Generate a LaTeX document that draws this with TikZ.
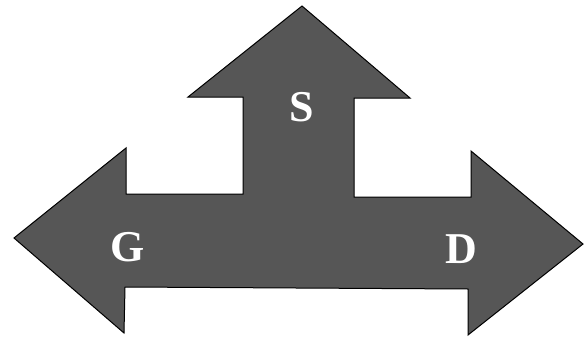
\documentclass[tikz,border=0pt]{standalone}
\usepackage{fontspec}
\setmainfont{Liberation Serif}
\begin{document}
\begin{tikzpicture}[x=1pt,y=-1pt,
  arrowshape/.style={fill={rgb,255:red,86;green,86;blue,86}, draw=black, line width=1pt, line join=miter},
  lettr/.style={text=white, font=\fontsize{44}{48}\selectfont\bfseries, inner sep=0pt}]
\useasboundingbox (0,0) rectangle (586,337);
\draw[arrowshape] (302,6) -- (410,98) -- (354,98) -- (354,197) -- (471,197) -- (471,151)
  -- (583,244) -- (468,335) -- (468,289) -- (125,287) -- (124,333) -- (14,238)
  -- (126,148) -- (126,194) -- (243,194) -- (243,97) -- (188,97) -- cycle;
\node[lettr] (S) at (302,107) {S};
\node[lettr] (G) at (128,247) {G};
\node[lettr] (D) at (461,249) {D};
\end{tikzpicture}
\end{document}
